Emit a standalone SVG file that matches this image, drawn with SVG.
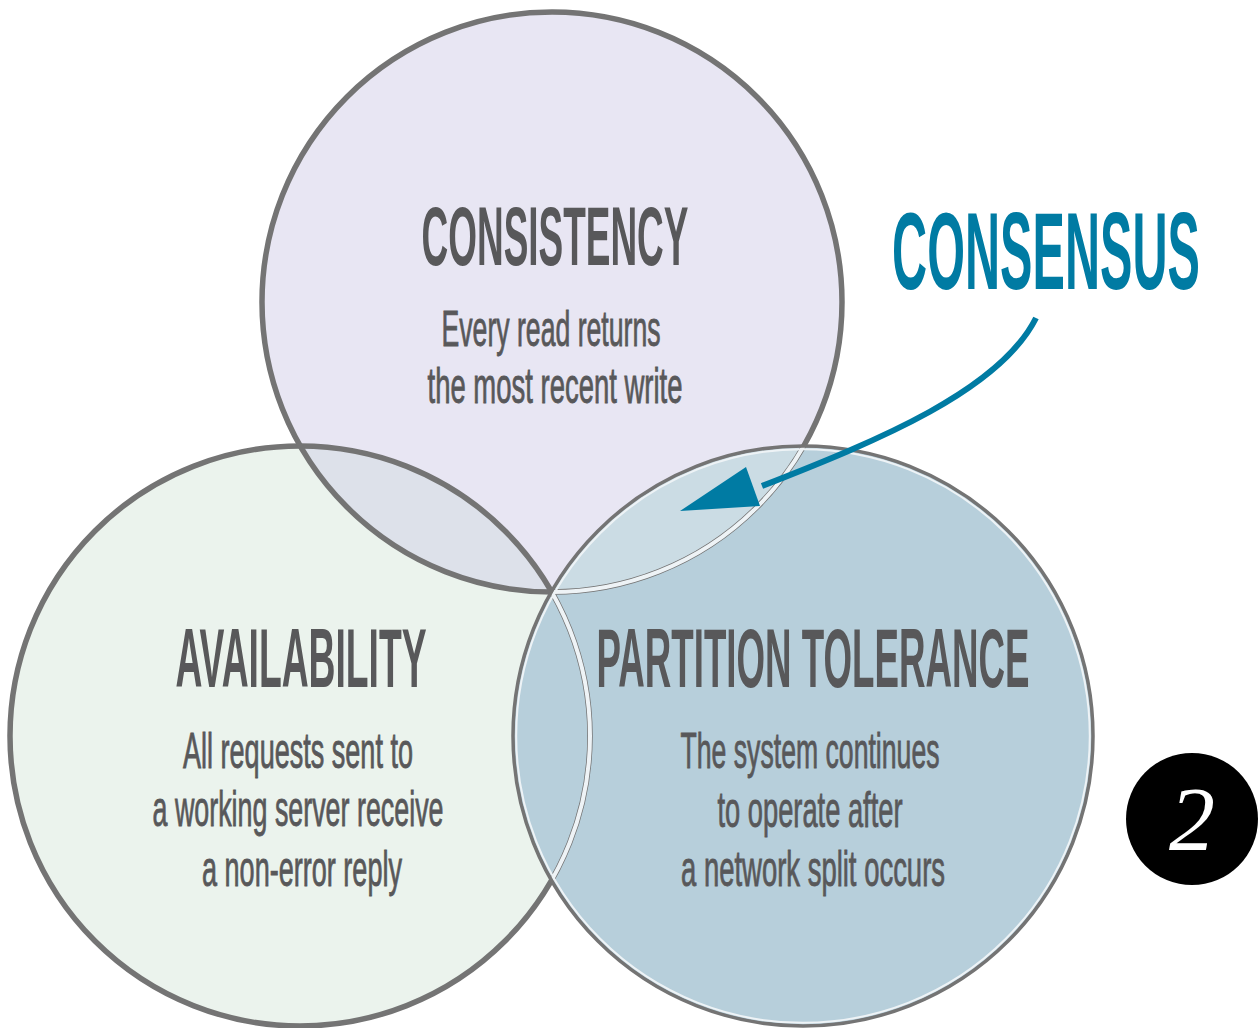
<svg xmlns="http://www.w3.org/2000/svg" width="1260" height="1028" viewBox="0 0 1260 1028">
<style>
.title{font-family:"Liberation Sans","DejaVu Sans",sans-serif;font-weight:bold;font-size:84px;fill:#58585a;text-anchor:middle}
.body{font-family:"Liberation Sans","DejaVu Sans",sans-serif;font-size:50px;fill:#58585a;stroke:#58585a;stroke-width:0.9;text-anchor:middle}
.ring{fill:none;stroke:#747474;stroke-width:5.5}
.white{fill:none;stroke:#eef3f6;stroke-width:4}
</style>
<defs>
<clipPath id="clipL"><circle cx="300" cy="736" r="290"/></clipPath>
<clipPath id="clipR"><circle cx="803" cy="736" r="290"/></clipPath>
</defs>
<rect width="1260" height="1028" fill="#fff"/>
<g id="fills">
<circle cx="300" cy="736" r="290" fill="#ebf3ed"/>
<circle cx="552" cy="302" r="290" fill="#e8e6f3"/>
<circle cx="552" cy="302" r="290" fill="#dde1ea" clip-path="url(#clipL)"/>
<circle cx="803" cy="736" r="290" fill="#b7cfdb"/>
<circle cx="552" cy="302" r="290" fill="#cbdce4" clip-path="url(#clipR)"/>
</g>
<g id="availability">
<circle class="ring" cx="300" cy="736" r="290"/>
<text class="title" transform="translate(301,687) scale(0.45,1)" textLength="558" lengthAdjust="spacingAndGlyphs">AVAILABILITY</text>
<text class="body" transform="translate(298,768) scale(0.5,1)" textLength="460" lengthAdjust="spacingAndGlyphs">All requests sent to</text>
<text class="body" transform="translate(298,826) scale(0.5,1)" textLength="582" lengthAdjust="spacingAndGlyphs">a working server receive</text>
<text class="body" transform="translate(302,886) scale(0.5,1)" textLength="400" lengthAdjust="spacingAndGlyphs">a non-error reply</text>
</g>
<g id="consistency">
<circle class="ring" cx="552" cy="302" r="290"/>
<text class="title" transform="translate(555,265) scale(0.45,1)" textLength="593" lengthAdjust="spacingAndGlyphs">CONSISTENCY</text>
<text class="body" transform="translate(551,346) scale(0.5,1)" textLength="438" lengthAdjust="spacingAndGlyphs">Every read returns</text>
<text class="body" transform="translate(555,403) scale(0.5,1)" textLength="510" lengthAdjust="spacingAndGlyphs">the most recent write</text>
</g>
<g id="partition-tolerance">
<g clip-path="url(#clipR)">
<circle class="white" cx="300" cy="736" r="290"/>
<circle class="white" cx="552" cy="302" r="290"/>
</g>
<circle cx="803" cy="736" r="290" fill="none" stroke="#747474" stroke-width="3.5"/>
<circle cx="803" cy="736" r="286.8" fill="none" stroke="#eef3f6" stroke-width="2"/>
<text class="title" transform="translate(813,687) scale(0.45,1)" textLength="962" lengthAdjust="spacingAndGlyphs">PARTITION TOLERANCE</text>
<text class="body" transform="translate(810,768) scale(0.5,1)" textLength="518" lengthAdjust="spacingAndGlyphs">The system continues</text>
<text class="body" transform="translate(810,827) scale(0.5,1)" textLength="370" lengthAdjust="spacingAndGlyphs">to operate after</text>
<text class="body" transform="translate(813,886) scale(0.5,1)" textLength="528" lengthAdjust="spacingAndGlyphs">a network split occurs</text>
</g>
<g id="consensus">
<text transform="translate(1046,289) scale(0.45,1)" font-family="'Liberation Sans','DejaVu Sans',sans-serif" font-weight="bold" font-size="110" fill="#007ba3" text-anchor="middle" textLength="684" lengthAdjust="spacingAndGlyphs">CONSENSUS</text>
</g>
<g id="connectors">
<path d="M1036,318 C1000,390 880,440 762,486" fill="none" stroke="#007ba3" stroke-width="6"/>
<path d="M680,511 L746,467 L760,506 z" fill="#007ba3"/>
</g>
<g id="badge">
<circle cx="1192" cy="819" r="66" fill="#000"/>
<text x="1192" y="850" font-family="'Liberation Serif','DejaVu Serif',serif" font-style="italic" font-size="92" fill="#fff" text-anchor="middle">2</text>
</g>
</svg>
